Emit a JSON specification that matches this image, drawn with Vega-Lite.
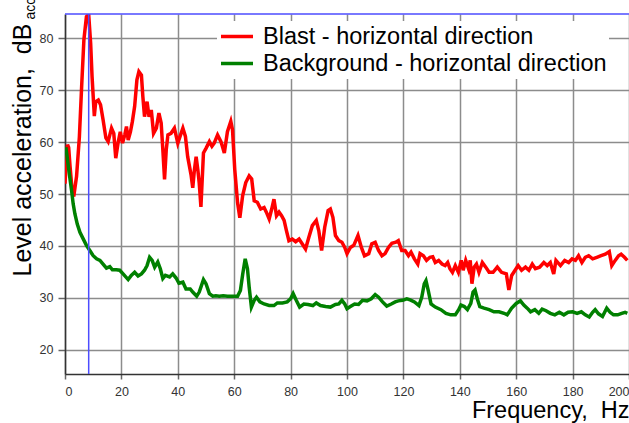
{
"$schema": "https://vega.github.io/schema/vega-lite/v6.json",
"width": 564, "height": 360,
"autosize": {"type": "none"},
"padding": {"left": 65, "top": 14, "right": 0, "bottom": 49},
"background": "white",
"config": {"view": {"stroke": null}, "font": "Liberation Sans"},
"datasets": {
"cursor": [{"freq": 8.4, "level": 84.7}]
},
"layer": [
{
"data": {"values": [
{"series":"Blast - horizontal direction","freq":0,"level":52},{"series":"Blast - horizontal direction","freq":0.5,"level":57},{"series":"Blast - horizontal direction","freq":0.9,"level":59.5},{"series":"Blast - horizontal direction","freq":1.3,"level":59},{"series":"Blast - horizontal direction","freq":1.8,"level":55.3},{"series":"Blast - horizontal direction","freq":2.4,"level":51.5},{"series":"Blast - horizontal direction","freq":3.1,"level":49.5},{"series":"Blast - horizontal direction","freq":4.1,"level":53.4},{"series":"Blast - horizontal direction","freq":5.1,"level":61},{"series":"Blast - horizontal direction","freq":5.9,"level":70.7},{"series":"Blast - horizontal direction","freq":6.7,"level":79.7},{"series":"Blast - horizontal direction","freq":7.6,"level":84.2},{"series":"Blast - horizontal direction","freq":8.4,"level":84.6},{"series":"Blast - horizontal direction","freq":9.1,"level":79},{"series":"Blast - horizontal direction","freq":9.6,"level":72.6},{"series":"Blast - horizontal direction","freq":10.4,"level":65},{"series":"Blast - horizontal direction","freq":10.9,"level":67.8},{"series":"Blast - horizontal direction","freq":11.8,"level":68.1},{"series":"Blast - horizontal direction","freq":12.6,"level":67.2},{"series":"Blast - horizontal direction","freq":13.5,"level":64.3},{"series":"Blast - horizontal direction","freq":14.5,"level":60.8},{"series":"Blast - horizontal direction","freq":15.3,"level":60.1},{"series":"Blast - horizontal direction","freq":16.5,"level":62.7},{"series":"Blast - horizontal direction","freq":17.3,"level":61.7},{"series":"Blast - horizontal direction","freq":18,"level":56.9},{"series":"Blast - horizontal direction","freq":18.8,"level":59.8},{"series":"Blast - horizontal direction","freq":19.6,"level":62},{"series":"Blast - horizontal direction","freq":20.4,"level":59.8},{"series":"Blast - horizontal direction","freq":21.2,"level":61.4},{"series":"Blast - horizontal direction","freq":21.8,"level":63},{"series":"Blast - horizontal direction","freq":22.4,"level":60.4},{"series":"Blast - horizontal direction","freq":23.2,"level":62},{"series":"Blast - horizontal direction","freq":23.9,"level":64},{"series":"Blast - horizontal direction","freq":24.7,"level":66.9},{"series":"Blast - horizontal direction","freq":25.5,"level":72},{"series":"Blast - horizontal direction","freq":26.2,"level":73.6},{"series":"Blast - horizontal direction","freq":27.1,"level":72.9},{"series":"Blast - horizontal direction","freq":27.6,"level":68.8},{"series":"Blast - horizontal direction","freq":28.2,"level":64.9},{"series":"Blast - horizontal direction","freq":29.1,"level":67.8},{"series":"Blast - horizontal direction","freq":29.8,"level":64.9},{"series":"Blast - horizontal direction","freq":30.6,"level":66.2},{"series":"Blast - horizontal direction","freq":31.4,"level":61.7},{"series":"Blast - horizontal direction","freq":32.4,"level":62.7},{"series":"Blast - horizontal direction","freq":33.3,"level":65.6},{"series":"Blast - horizontal direction","freq":34.1,"level":63.7},{"series":"Blast - horizontal direction","freq":34.7,"level":58.5},{"series":"Blast - horizontal direction","freq":35.3,"level":52.8},{"series":"Blast - horizontal direction","freq":35.9,"level":58.5},{"series":"Blast - horizontal direction","freq":36.5,"level":61.4},{"series":"Blast - horizontal direction","freq":37.6,"level":61.7},{"series":"Blast - horizontal direction","freq":38.8,"level":62.7},{"series":"Blast - horizontal direction","freq":40,"level":59.8},{"series":"Blast - horizontal direction","freq":40.8,"level":61.1},{"series":"Blast - horizontal direction","freq":41.8,"level":62.7},{"series":"Blast - horizontal direction","freq":42.7,"level":61.1},{"series":"Blast - horizontal direction","freq":43.5,"level":57.2},{"series":"Blast - horizontal direction","freq":44.7,"level":53.7},{"series":"Blast - horizontal direction","freq":45.3,"level":51.2},{"series":"Blast - horizontal direction","freq":45.9,"level":54.7},{"series":"Blast - horizontal direction","freq":46.5,"level":57.2},{"series":"Blast - horizontal direction","freq":47.1,"level":54.7},{"series":"Blast - horizontal direction","freq":47.6,"level":52.1},{"series":"Blast - horizontal direction","freq":48.2,"level":47.5},{"series":"Blast - horizontal direction","freq":49.1,"level":57.9},{"series":"Blast - horizontal direction","freq":50,"level":58.8},{"series":"Blast - horizontal direction","freq":51.2,"level":60.1},{"series":"Blast - horizontal direction","freq":52.1,"level":59.2},{"series":"Blast - horizontal direction","freq":52.9,"level":59.8},{"series":"Blast - horizontal direction","freq":54.1,"level":61.4},{"series":"Blast - horizontal direction","freq":55.3,"level":60.1},{"series":"Blast - horizontal direction","freq":56.5,"level":57.9},{"series":"Blast - horizontal direction","freq":57.6,"level":62},{"series":"Blast - horizontal direction","freq":58.8,"level":64},{"series":"Blast - horizontal direction","freq":59.4,"level":62.4},{"series":"Blast - horizontal direction","freq":60.2,"level":54.7},{"series":"Blast - horizontal direction","freq":61.2,"level":48.3},{"series":"Blast - horizontal direction","freq":62,"level":45.4},{"series":"Blast - horizontal direction","freq":63,"level":49.7},{"series":"Blast - horizontal direction","freq":64.1,"level":52.2},{"series":"Blast - horizontal direction","freq":65.3,"level":53.5},{"series":"Blast - horizontal direction","freq":66.2,"level":52.9},{"series":"Blast - horizontal direction","freq":67.1,"level":48.7},{"series":"Blast - horizontal direction","freq":68.2,"level":48.4},{"series":"Blast - horizontal direction","freq":69.4,"level":47.1},{"series":"Blast - horizontal direction","freq":70.6,"level":47.4},{"series":"Blast - horizontal direction","freq":71.4,"level":46.5},{"series":"Blast - horizontal direction","freq":72.4,"level":45.2},{"series":"Blast - horizontal direction","freq":73.3,"level":47.1},{"series":"Blast - horizontal direction","freq":74.1,"level":49},{"series":"Blast - horizontal direction","freq":75,"level":45.8},{"series":"Blast - horizontal direction","freq":75.9,"level":46.5},{"series":"Blast - horizontal direction","freq":76.8,"level":45.8},{"series":"Blast - horizontal direction","freq":77.7,"level":44.9},{"series":"Blast - horizontal direction","freq":78.5,"level":43},{"series":"Blast - horizontal direction","freq":79.4,"level":41},{"series":"Blast - horizontal direction","freq":80.6,"level":41.3},{"series":"Blast - horizontal direction","freq":81.8,"level":40.8},{"series":"Blast - horizontal direction","freq":83,"level":41.3},{"series":"Blast - horizontal direction","freq":84.1,"level":40.4},{"series":"Blast - horizontal direction","freq":85.3,"level":39.4},{"series":"Blast - horizontal direction","freq":86.5,"level":41.7},{"series":"Blast - horizontal direction","freq":87.7,"level":43.9},{"series":"Blast - horizontal direction","freq":89.1,"level":44.9},{"series":"Blast - horizontal direction","freq":90,"level":42.9},{"series":"Blast - horizontal direction","freq":91,"level":39.1},{"series":"Blast - horizontal direction","freq":92.1,"level":43.6},{"series":"Blast - horizontal direction","freq":93.3,"level":46.8},{"series":"Blast - horizontal direction","freq":94.1,"level":47.1},{"series":"Blast - horizontal direction","freq":95,"level":45.5},{"series":"Blast - horizontal direction","freq":95.9,"level":42},{"series":"Blast - horizontal direction","freq":97.1,"level":41},{"series":"Blast - horizontal direction","freq":98.2,"level":40.7},{"series":"Blast - horizontal direction","freq":99.2,"level":39.7},{"series":"Blast - horizontal direction","freq":100,"level":38.5},{"series":"Blast - horizontal direction","freq":101.2,"level":39.7},{"series":"Blast - horizontal direction","freq":102.4,"level":40.1},{"series":"Blast - horizontal direction","freq":103.9,"level":42},{"series":"Blast - horizontal direction","freq":105.1,"level":39.7},{"series":"Blast - horizontal direction","freq":106.2,"level":38.1},{"series":"Blast - horizontal direction","freq":107.7,"level":38.5},{"series":"Blast - horizontal direction","freq":108.8,"level":40.4},{"series":"Blast - horizontal direction","freq":110,"level":40.7},{"series":"Blast - horizontal direction","freq":111.2,"level":39.1},{"series":"Blast - horizontal direction","freq":112.4,"level":38.1},{"series":"Blast - horizontal direction","freq":113.5,"level":38.5},{"series":"Blast - horizontal direction","freq":114.7,"level":39.7},{"series":"Blast - horizontal direction","freq":115.9,"level":40.5},{"series":"Blast - horizontal direction","freq":117.3,"level":40.7},{"series":"Blast - horizontal direction","freq":118.2,"level":41},{"series":"Blast - horizontal direction","freq":119.4,"level":39.1},{"series":"Blast - horizontal direction","freq":120.6,"level":39.1},{"series":"Blast - horizontal direction","freq":121.8,"level":38.1},{"series":"Blast - horizontal direction","freq":122.7,"level":38.8},{"series":"Blast - horizontal direction","freq":123.9,"level":37.5},{"series":"Blast - horizontal direction","freq":125.1,"level":36.5},{"series":"Blast - horizontal direction","freq":125.9,"level":38.5},{"series":"Blast - horizontal direction","freq":127.1,"level":38.1},{"series":"Blast - horizontal direction","freq":128.2,"level":37.2},{"series":"Blast - horizontal direction","freq":129.4,"level":37.8},{"series":"Blast - horizontal direction","freq":130.4,"level":37.9},{"series":"Blast - horizontal direction","freq":131.3,"level":36.8},{"series":"Blast - horizontal direction","freq":132.5,"level":37.2},{"series":"Blast - horizontal direction","freq":133.7,"level":36.5},{"series":"Blast - horizontal direction","freq":134.8,"level":36.2},{"series":"Blast - horizontal direction","freq":135.7,"level":36.8},{"series":"Blast - horizontal direction","freq":136.5,"level":35.6},{"series":"Blast - horizontal direction","freq":137.4,"level":34.9},{"series":"Blast - horizontal direction","freq":138.4,"level":36.2},{"series":"Blast - horizontal direction","freq":139.5,"level":34.9},{"series":"Blast - horizontal direction","freq":140.5,"level":37.2},{"series":"Blast - horizontal direction","freq":141.2,"level":35.3},{"series":"Blast - horizontal direction","freq":142.1,"level":37.2},{"series":"Blast - horizontal direction","freq":143.1,"level":35.6},{"series":"Blast - horizontal direction","freq":143.7,"level":37.2},{"series":"Blast - horizontal direction","freq":144.3,"level":32.7},{"series":"Blast - horizontal direction","freq":145.1,"level":35.9},{"series":"Blast - horizontal direction","freq":145.9,"level":36.5},{"series":"Blast - horizontal direction","freq":146.8,"level":34.9},{"series":"Blast - horizontal direction","freq":148,"level":36.8},{"series":"Blast - horizontal direction","freq":149.2,"level":35.9},{"series":"Blast - horizontal direction","freq":150.4,"level":34.9},{"series":"Blast - horizontal direction","freq":151.8,"level":34.9},{"series":"Blast - horizontal direction","freq":153.3,"level":35.9},{"series":"Blast - horizontal direction","freq":154.8,"level":34.9},{"series":"Blast - horizontal direction","freq":156.5,"level":34.6},{"series":"Blast - horizontal direction","freq":157.4,"level":31.5},{"series":"Blast - horizontal direction","freq":158.4,"level":34.3},{"series":"Blast - horizontal direction","freq":159.6,"level":35.3},{"series":"Blast - horizontal direction","freq":160.7,"level":36.2},{"series":"Blast - horizontal direction","freq":161.9,"level":35.3},{"series":"Blast - horizontal direction","freq":163.3,"level":35.9},{"series":"Blast - horizontal direction","freq":164.5,"level":35.3},{"series":"Blast - horizontal direction","freq":165.7,"level":36.5},{"series":"Blast - horizontal direction","freq":166.8,"level":35.6},{"series":"Blast - horizontal direction","freq":168.3,"level":35.9},{"series":"Blast - horizontal direction","freq":169.8,"level":36.8},{"series":"Blast - horizontal direction","freq":171,"level":36.2},{"series":"Blast - horizontal direction","freq":172.1,"level":36.8},{"series":"Blast - horizontal direction","freq":173.3,"level":34.6},{"series":"Blast - horizontal direction","freq":174.1,"level":37.2},{"series":"Blast - horizontal direction","freq":175.7,"level":36.2},{"series":"Blast - horizontal direction","freq":177.2,"level":37.2},{"series":"Blast - horizontal direction","freq":178.6,"level":36.8},{"series":"Blast - horizontal direction","freq":179.8,"level":37.5},{"series":"Blast - horizontal direction","freq":181,"level":37.2},{"series":"Blast - horizontal direction","freq":182.1,"level":38.1},{"series":"Blast - horizontal direction","freq":183.3,"level":36.8},{"series":"Blast - horizontal direction","freq":184.5,"level":37.8},{"series":"Blast - horizontal direction","freq":185.7,"level":38.1},{"series":"Blast - horizontal direction","freq":187.1,"level":37.5},{"series":"Blast - horizontal direction","freq":188.6,"level":37.8},{"series":"Blast - horizontal direction","freq":190.1,"level":38.1},{"series":"Blast - horizontal direction","freq":191.6,"level":38.4},{"series":"Blast - horizontal direction","freq":193,"level":38.9},{"series":"Blast - horizontal direction","freq":193.9,"level":36.2},{"series":"Blast - horizontal direction","freq":195.1,"level":37.2},{"series":"Blast - horizontal direction","freq":196.3,"level":38.1},{"series":"Blast - horizontal direction","freq":197.2,"level":38.4},{"series":"Blast - horizontal direction","freq":198.4,"level":37.8},{"series":"Blast - horizontal direction","freq":199.4,"level":37.2},
{"series":"Background - horizontal direction","freq":0.3,"level":59},{"series":"Background - horizontal direction","freq":0.8,"level":57},{"series":"Background - horizontal direction","freq":1.5,"level":54},{"series":"Background - horizontal direction","freq":2.35,"level":50.6},{"series":"Background - horizontal direction","freq":2.9,"level":48.1},{"series":"Background - horizontal direction","freq":3.5,"level":46.2},{"series":"Background - horizontal direction","freq":4.35,"level":44.2},{"series":"Background - horizontal direction","freq":5.3,"level":42.6},{"series":"Background - horizontal direction","freq":6.5,"level":41.3},{"series":"Background - horizontal direction","freq":7.6,"level":40.1},{"series":"Background - horizontal direction","freq":8.8,"level":39.1},{"series":"Background - horizontal direction","freq":10,"level":38.1},{"series":"Background - horizontal direction","freq":11.2,"level":37.5},{"series":"Background - horizontal direction","freq":12.4,"level":37.2},{"series":"Background - horizontal direction","freq":13.5,"level":36.5},{"series":"Background - horizontal direction","freq":14.7,"level":35.7},{"series":"Background - horizontal direction","freq":15.9,"level":36},{"series":"Background - horizontal direction","freq":16.8,"level":35.4},{"series":"Background - horizontal direction","freq":18.2,"level":35.4},{"series":"Background - horizontal direction","freq":19.4,"level":35.3},{"series":"Background - horizontal direction","freq":20.6,"level":34.6},{"series":"Background - horizontal direction","freq":22.4,"level":33.5},{"series":"Background - horizontal direction","freq":23.5,"level":34.3},{"series":"Background - horizontal direction","freq":24.7,"level":34.9},{"series":"Background - horizontal direction","freq":25.9,"level":34.2},{"series":"Background - horizontal direction","freq":27.1,"level":34.6},{"series":"Background - horizontal direction","freq":28.2,"level":35.3},{"series":"Background - horizontal direction","freq":29.1,"level":36.2},{"series":"Background - horizontal direction","freq":30,"level":37.8},{"series":"Background - horizontal direction","freq":30.9,"level":37.2},{"series":"Background - horizontal direction","freq":31.8,"level":35.9},{"series":"Background - horizontal direction","freq":32.9,"level":36.9},{"series":"Background - horizontal direction","freq":33.8,"level":35.6},{"series":"Background - horizontal direction","freq":34.7,"level":33.7},{"series":"Background - horizontal direction","freq":35.6,"level":34.3},{"series":"Background - horizontal direction","freq":37.1,"level":34},{"series":"Background - horizontal direction","freq":38.2,"level":34.6},{"series":"Background - horizontal direction","freq":39.4,"level":33.8},{"series":"Background - horizontal direction","freq":40.4,"level":32.8},{"series":"Background - horizontal direction","freq":41.8,"level":33},{"series":"Background - horizontal direction","freq":42.9,"level":31.7},{"series":"Background - horizontal direction","freq":44.4,"level":31.7},{"series":"Background - horizontal direction","freq":45.3,"level":31.1},{"series":"Background - horizontal direction","freq":46.7,"level":30.3},{"series":"Background - horizontal direction","freq":47.6,"level":31.1},{"series":"Background - horizontal direction","freq":49.1,"level":33.5},{"series":"Background - horizontal direction","freq":50,"level":32.7},{"series":"Background - horizontal direction","freq":51.2,"level":30.8},{"series":"Background - horizontal direction","freq":52.4,"level":30.3},{"series":"Background - horizontal direction","freq":53.5,"level":30.4},{"series":"Background - horizontal direction","freq":54.7,"level":30.3},{"series":"Background - horizontal direction","freq":56.1,"level":30.4},{"series":"Background - horizontal direction","freq":57.6,"level":30.3},{"series":"Background - horizontal direction","freq":59.4,"level":30.3},{"series":"Background - horizontal direction","freq":61.2,"level":30.3},{"series":"Background - horizontal direction","freq":62.2,"level":31.4},{"series":"Background - horizontal direction","freq":63,"level":34.5},{"series":"Background - horizontal direction","freq":63.9,"level":37.5},{"series":"Background - horizontal direction","freq":64.7,"level":35.6},{"series":"Background - horizontal direction","freq":65.3,"level":32.1},{"series":"Background - horizontal direction","freq":66.1,"level":28.2},{"series":"Background - horizontal direction","freq":67.1,"level":29.5},{"series":"Background - horizontal direction","freq":67.9,"level":30.1},{"series":"Background - horizontal direction","freq":69.1,"level":29.2},{"series":"Background - horizontal direction","freq":70.6,"level":28.8},{"series":"Background - horizontal direction","freq":72.4,"level":28.5},{"series":"Background - horizontal direction","freq":74.1,"level":28.5},{"series":"Background - horizontal direction","freq":75.3,"level":29},{"series":"Background - horizontal direction","freq":77.1,"level":29},{"series":"Background - horizontal direction","freq":78.8,"level":29.2},{"series":"Background - horizontal direction","freq":80,"level":29.8},{"series":"Background - horizontal direction","freq":80.9,"level":30.8},{"series":"Background - horizontal direction","freq":82,"level":29.5},{"series":"Background - horizontal direction","freq":83.2,"level":28.2},{"series":"Background - horizontal direction","freq":84.7,"level":28.8},{"series":"Background - horizontal direction","freq":86.2,"level":28.7},{"series":"Background - horizontal direction","freq":87.9,"level":28.5},{"series":"Background - horizontal direction","freq":89.1,"level":29},{"series":"Background - horizontal direction","freq":90.6,"level":28.5},{"series":"Background - horizontal direction","freq":92.4,"level":28.3},{"series":"Background - horizontal direction","freq":94.1,"level":28.2},{"series":"Background - horizontal direction","freq":95.9,"level":28.7},{"series":"Background - horizontal direction","freq":97.1,"level":28.8},{"series":"Background - horizontal direction","freq":98.2,"level":29.5},{"series":"Background - horizontal direction","freq":99.2,"level":28.8},{"series":"Background - horizontal direction","freq":100,"level":27.9},{"series":"Background - horizontal direction","freq":101.2,"level":28.3},{"series":"Background - horizontal direction","freq":102.7,"level":28.8},{"series":"Background - horizontal direction","freq":104.1,"level":28.7},{"series":"Background - horizontal direction","freq":105.5,"level":29.5},{"series":"Background - horizontal direction","freq":107.1,"level":29.4},{"series":"Background - horizontal direction","freq":108.6,"level":29.8},{"series":"Background - horizontal direction","freq":110,"level":30.6},{"series":"Background - horizontal direction","freq":111.2,"level":30.1},{"series":"Background - horizontal direction","freq":112.6,"level":29.2},{"series":"Background - horizontal direction","freq":114.1,"level":28.4},{"series":"Background - horizontal direction","freq":115.7,"level":28.8},{"series":"Background - horizontal direction","freq":117.1,"level":29.2},{"series":"Background - horizontal direction","freq":118.2,"level":29.4},{"series":"Background - horizontal direction","freq":119.7,"level":29.5},{"series":"Background - horizontal direction","freq":121.2,"level":29.8},{"series":"Background - horizontal direction","freq":122.4,"level":29.6},{"series":"Background - horizontal direction","freq":123.9,"level":29.2},{"series":"Background - horizontal direction","freq":125.5,"level":28.5},{"series":"Background - horizontal direction","freq":126.5,"level":30.1},{"series":"Background - horizontal direction","freq":127.4,"level":32.7},{"series":"Background - horizontal direction","freq":128,"level":33.3},{"series":"Background - horizontal direction","freq":128.8,"level":31.4},{"series":"Background - horizontal direction","freq":129.8,"level":28.8},{"series":"Background - horizontal direction","freq":131.3,"level":28.2},{"series":"Background - horizontal direction","freq":133.3,"level":27.7},{"series":"Background - horizontal direction","freq":135.1,"level":27},{"series":"Background - horizontal direction","freq":136.8,"level":26.7},{"series":"Background - horizontal direction","freq":138.4,"level":26.7},{"series":"Background - horizontal direction","freq":139.6,"level":27.7},{"series":"Background - horizontal direction","freq":140.4,"level":28.6},{"series":"Background - horizontal direction","freq":141.6,"level":28.3},{"series":"Background - horizontal direction","freq":142.7,"level":27.7},{"series":"Background - horizontal direction","freq":143.9,"level":28.9},{"series":"Background - horizontal direction","freq":144.7,"level":31.1},{"series":"Background - horizontal direction","freq":145.4,"level":31.5},{"series":"Background - horizontal direction","freq":146.3,"level":29.6},{"series":"Background - horizontal direction","freq":147.1,"level":28.3},{"series":"Background - horizontal direction","freq":148.6,"level":28},{"series":"Background - horizontal direction","freq":150.4,"level":27.7},{"series":"Background - horizontal direction","freq":152.1,"level":27.3},{"series":"Background - horizontal direction","freq":153.9,"level":27.3},{"series":"Background - horizontal direction","freq":155.7,"level":27},{"series":"Background - horizontal direction","freq":156.8,"level":26.7},{"series":"Background - horizontal direction","freq":158.4,"level":28},{"series":"Background - horizontal direction","freq":160,"level":28.9},{"series":"Background - horizontal direction","freq":161.5,"level":29.4},{"series":"Background - horizontal direction","freq":162.7,"level":28.6},{"series":"Background - horizontal direction","freq":163.9,"level":28},{"series":"Background - horizontal direction","freq":165.1,"level":27.3},{"series":"Background - horizontal direction","freq":166.6,"level":27.7},{"series":"Background - horizontal direction","freq":168,"level":27},{"series":"Background - horizontal direction","freq":169.2,"level":27.8},{"series":"Background - horizontal direction","freq":170.6,"level":27.5},{"series":"Background - horizontal direction","freq":172.1,"level":27},{"series":"Background - horizontal direction","freq":173.7,"level":26.7},{"series":"Background - horizontal direction","freq":175.3,"level":27.2},{"series":"Background - horizontal direction","freq":176.9,"level":26.7},{"series":"Background - horizontal direction","freq":178.4,"level":27.2},{"series":"Background - horizontal direction","freq":180,"level":27.3},{"series":"Background - horizontal direction","freq":181.6,"level":27},{"series":"Background - horizontal direction","freq":183.1,"level":27.3},{"series":"Background - horizontal direction","freq":184.5,"level":26.7},{"series":"Background - horizontal direction","freq":185.9,"level":26.3},{"series":"Background - horizontal direction","freq":187.1,"level":27.2},{"series":"Background - horizontal direction","freq":188,"level":27.7},{"series":"Background - horizontal direction","freq":189.2,"level":26.9},{"series":"Background - horizontal direction","freq":190.6,"level":26.4},{"series":"Background - horizontal direction","freq":192.1,"level":28},{"series":"Background - horizontal direction","freq":193.3,"level":27.2},{"series":"Background - horizontal direction","freq":194.5,"level":26.7},{"series":"Background - horizontal direction","freq":196,"level":26.7},{"series":"Background - horizontal direction","freq":197.4,"level":27},{"series":"Background - horizontal direction","freq":198.6,"level":27.2},{"series":"Background - horizontal direction","freq":199.4,"level":27}
]},
"mark": {"type": "line", "strokeWidth": 3.5, "clip": true},
"encoding": {
"x": {"field": "freq", "type": "quantitative",
"scale": {"domain": [0, 200], "nice": false, "zero": false},
"axis": {"title": "Frequency,\u00a0 Hz", "values": [0,20,40,60,80,100,120,140,160,180,200], "labelFlush": true, "labelFlushOffset": 0, "labelOverlap": false, "grid": true, "gridColor": "#8c8c8c", "gridWidth": 1.5, "domainColor": "#333333", "domainWidth": 1.5, "tickColor": "#666666", "tickSize": 5, "tickWidth": 1.5, "labelFont": "Liberation Sans", "labelFontSize": 12.5, "labelColor": "#333333", "labelPadding": 6, "titleFont": "Liberation Sans", "titleFontSize": 23.5, "titleFontWeight": "normal", "titleColor": "#000000", "titleAnchor": "end", "titleAlign": "right", "titleBaseline": "alphabetic", "titleX": 564, "titleY": 43}},
"y": {"field": "level", "type": "quantitative",
"scale": {"domain": [15.3, 84.7], "nice": false, "zero": false},
"axis": {"title": "Level acceleration,\u00a0 dB", "values": [20,30,40,50,60,70,80], "grid": true, "gridColor": "#8c8c8c", "gridWidth": 1.5, "domainColor": "#333333", "domainWidth": 1.5, "tickColor": "#666666", "tickSize": 7, "tickWidth": 1.5, "labelFont": "Liberation Sans", "labelFontSize": 12.5, "labelColor": "#333333", "labelPadding": 5, "titleFont": "Liberation Sans", "titleFontSize": 25, "titleFontWeight": "normal", "titleColor": "#000000", "titleAngle": -90, "titleAlign": "left", "titleBaseline": "alphabetic", "titleX": -35, "titleY": 262}},
"color": {"field": "series", "type": "nominal",
"scale": {"domain": ["Blast - horizontal direction", "Background - horizontal direction"], "range": ["#ff0000", "#008000"]},
"legend": {"orient": "none", "legendX": 152, "legendY": 7, "title": null, "fillColor": "white", "padding": 2, "symbolType": "stroke", "symbolSize": 1024, "symbolStrokeWidth": 3.5, "labelFont": "Liberation Sans", "labelFontSize": 23.5, "labelColor": "#000000", "labelOffset": 8, "labelLimit": 600, "rowPadding": 0, "clipHeight": 27}}
}
},
{
"data": {"name": "cursor"},
"mark": {"type": "rule", "color": "#4d4dff", "strokeWidth": 1.5},
"encoding": {"x": {"field": "freq", "type": "quantitative"}}
},
{
"data": {"name": "cursor"},
"mark": {"type": "rule", "color": "#4d4dff", "strokeWidth": 1.5},
"encoding": {"y": {"field": "level", "type": "quantitative",
"axis": {"orient": "left", "title": "acc", "labels": false, "ticks": false, "domain": false, "grid": false, "titleFont": "Liberation Sans", "titleFontSize": 14, "titleFontWeight": "normal", "titleColor": "#000000", "titleAngle": -90, "titleAlign": "left", "titleBaseline": "alphabetic", "titleX": -31, "titleY": 5}}}
}
],
"resolve": {"axis": {"y": "independent"}}
}
